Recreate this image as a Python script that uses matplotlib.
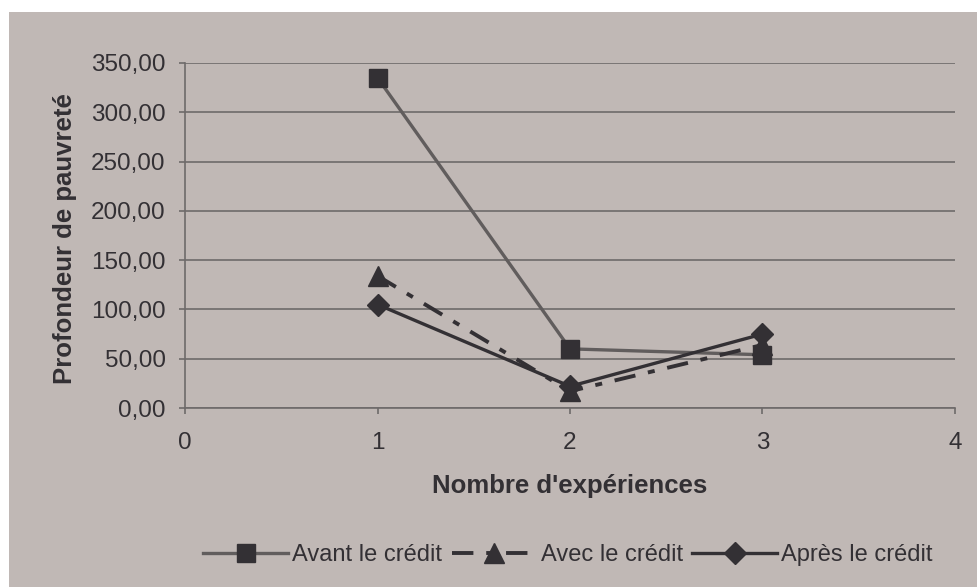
import matplotlib.pyplot as plt
from matplotlib.patches import Rectangle

# data
experiences = [1, 2, 3]
avant = [335, 60, 54]
avec = [134, 17, 64]
apres = [105, 22, 75]
y_ticks = [0, 50, 100, 150, 200, 250, 300, 350]
x_ticks = [0, 1, 2, 3, 4]

bg = '#c0b8b5'
ink = '#333034'
grid = '#6e6a6a'
plt.rcParams['font.family'] = ['Liberation Sans', 'DejaVu Sans']

fig = plt.figure(figsize=(9.78, 5.87), dpi=100)
fig.patches.append(Rectangle((9 / 978, 0), 1, 1 - 12 / 587, transform=fig.transFigure,
                             facecolor=bg, edgecolor='none', zorder=-10))
ax = fig.add_axes([185 / 978, 1 - 408 / 587, 770 / 978, 345 / 587])
ax.set_zorder(2)
ax.set_facecolor(bg)

ax.plot(experiences, avant, color='#615d5d', lw=2.4, marker='s', ms=13.5,
        mfc=ink, mec=ink, label='Avant le crédit', zorder=3)
ax.plot(experiences, avec, color=ink, lw=2.8, ls=(0, (5.5, 3.3, 1.8, 3.3)), marker='^', ms=14.5,
        mfc=ink, mec=ink, label='Avec le crédit', zorder=4)
ax.plot(experiences, apres, color=ink, lw=2.4, marker='D', ms=11,
        mfc=ink, mec=ink, label='Après le crédit', zorder=5)

ax.set_xlim(0, 4)
ax.set_ylim(0, 350)
ax.set_yticks(y_ticks)
ax.set_yticklabels([f'{v:.2f}'.replace('.', ',') for v in y_ticks])
ax.set_xticks(x_ticks)
ax.yaxis.grid(True, color=grid, lw=1.2)
ax.set_axisbelow(True)
for s in ['top', 'right']:
    ax.spines[s].set_visible(False)
for s in ['left', 'bottom']:
    ax.spines[s].set_color(grid)
    ax.spines[s].set_linewidth(1.2)
ax.tick_params(axis='both', colors=grid, labelcolor=ink, labelsize=17.5, length=4.5, width=1.2)
ax.tick_params(axis='x', pad=13)
ax.tick_params(axis='y', pad=9.5)
ax.set_ylabel('Profondeur de pauvreté', fontsize=18.5, fontweight='bold', color=ink)
ax.yaxis.set_label_coords(-0.14, 0.49)
ax.set_xlabel("Nombre d'expériences", fontsize=18.5, fontweight='bold', color=ink, labelpad=14)

fig.legend(loc='center', bbox_to_anchor=(568 / 978, 1 - 555 / 587), ncol=3, frameon=False,
           fontsize=17, labelcolor=ink, handlelength=3.6, handletextpad=0.17, columnspacing=0.4)

fig.savefig('out.png', dpi=100, facecolor='white')
